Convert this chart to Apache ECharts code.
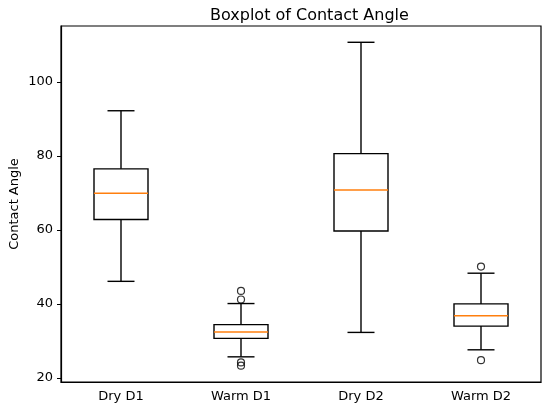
<!DOCTYPE html>
<html>
<head>
<meta charset="utf-8">
<script src="https://cdn.jsdelivr.net/npm/echarts@6/dist/echarts.min.js"></script>
<style>
    html, body { margin: 0; padding: 0; background: #fff; }
    #chart { width: 550px; height: 412px; }
</style>
</head>
<body>
<div id="chart"></div>
<script>
// box statistics
const categories = ['Dry D1', 'Warm D1', 'Dry D2', 'Warm D2'];
const whiskerLow = [46.1, 25.7, 32.3, 27.6];
const q1 = [62.8, 30.7, 59.7, 34.0];
const median = [69.9, 32.4, 70.8, 36.8];
const q3 = [76.5, 34.4, 80.6, 40.0];
const whiskerHigh = [92.2, 40.1, 110.7, 48.3];

// fliers: category index + value
const outlierCat = [1, 1, 1, 1, 3, 3];
const outlierVal = [43.5, 41.2, 24.2, 23.3, 50.1, 24.8];

const yTicks = [20, 40, 60, 80, 100];

const FONT = 'DejaVu Sans';
const LW = 1.4;

let boxData = [];
for (let i = 0; i < categories.length; i++) {
    boxData.push([i, whiskerLow[i], q1[i], median[i], q3[i], whiskerHigh[i]]);
}
let outlierData = [];
for (let i = 0; i < outlierCat.length; i++) {
    outlierData.push([outlierCat[i], outlierVal[i]]);
}

function renderBox(params, api) {
    const idx = api.value(0);
    const band = api.size([1, 0])[0];
    const boxW = band * 0.45;
    const capW = boxW / 2;
    const lo = api.coord([idx, api.value(1)]);
    const b1 = api.coord([idx, api.value(2)]);
    const md = api.coord([idx, api.value(3)]);
    const b3 = api.coord([idx, api.value(4)]);
    const hi = api.coord([idx, api.value(5)]);
    const x = lo[0];
    const lineStyle = { stroke: '#000', lineWidth: LW, fill: null };
    return {
        type: 'group',
        children: [
            { type: 'line', shape: { x1: x, y1: b3[1], x2: x, y2: hi[1] }, style: lineStyle },
            { type: 'line', shape: { x1: x, y1: b1[1], x2: x, y2: lo[1] }, style: lineStyle },
            { type: 'line', shape: { x1: x - capW / 2, y1: hi[1], x2: x + capW / 2, y2: hi[1] }, style: lineStyle },
            { type: 'line', shape: { x1: x - capW / 2, y1: lo[1], x2: x + capW / 2, y2: lo[1] }, style: lineStyle },
            { type: 'rect', shape: { x: x - boxW / 2, y: b3[1], width: boxW, height: b1[1] - b3[1] }, style: lineStyle },
            { type: 'line', shape: { x1: x - boxW / 2, y1: md[1], x2: x + boxW / 2, y2: md[1] },
              style: { stroke: '#ff7f0e', lineWidth: LW } }
        ]
    };
}

let chart = echarts.init(document.getElementById('chart'));

let option = {
    animation: false,
    backgroundColor: '#fff',
    title: {
        text: 'Boxplot of Contact Angle',
        left: 205,
        top: 3,
        textStyle: { fontFamily: FONT, fontSize: 16, fontWeight: 'normal', color: '#000' }
    },
    grid: {
        left: 61,
        right: 9,
        top: 26,
        bottom: 30,
        outerBoundsMode: 'none',
        containLabel: false,
        show: true,
        borderColor: '#000',
        borderWidth: 1.2,
        backgroundColor: 'transparent'
    },
    xAxis: {
        type: 'category',
        data: categories,
        boundaryGap: true,
        axisLine: { lineStyle: { color: '#000', width: 1.2 } },
        axisTick: { alignWithLabel: true, length: 4, lineStyle: { color: '#000' } },
        axisLabel: { fontFamily: FONT, fontSize: 13, color: '#000', margin: 8 },
        splitLine: { show: false }
    },
    yAxis: {
        type: 'value',
        min: 18.9,
        max: 115.1,
        name: 'Contact Angle',
        nameLocation: 'middle',
        nameGap: 40,
        nameMoveOverlap: false,
        nameTextStyle: { fontFamily: FONT, fontSize: 13, color: '#000' },
        axisLine: { show: true, lineStyle: { color: '#000', width: 1.2 } },
        axisTick: { show: true, length: 4, customValues: yTicks, lineStyle: { color: '#000' } },
        axisLabel: { fontFamily: FONT, fontSize: 13, color: '#000', margin: 8, customValues: yTicks },
        splitLine: { show: false }
    },
    series: [
        {
            type: 'custom',
            renderItem: renderBox,
            data: boxData,
            encode: { x: 0, y: [1, 2, 3, 4, 5] },
            silent: true
        },
        {
            type: 'scatter',
            data: outlierData,
            symbol: 'circle',
            symbolSize: 7,
            itemStyle: { color: 'rgba(0,0,0,0)', borderColor: '#000', borderWidth: 1.2 },
            silent: true
        }
    ]
};

chart.setOption(option);
</script>
</body>
</html>
